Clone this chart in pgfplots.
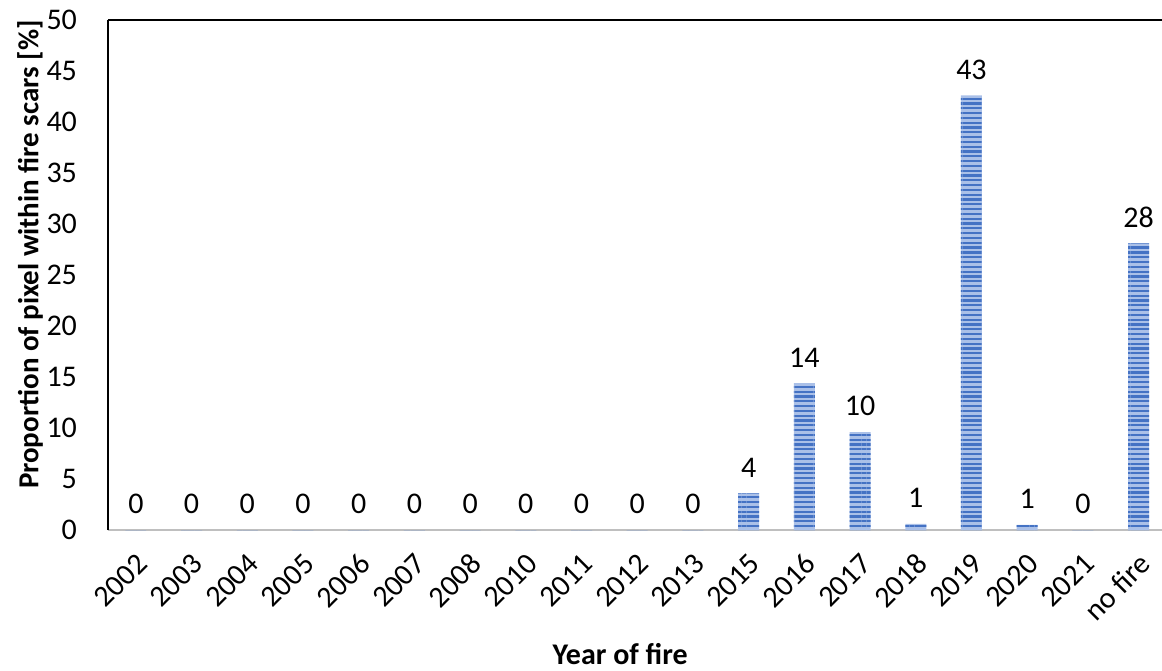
\documentclass[border=0pt]{standalone}
\usepackage{pgfplots}
\pgfplotsset{compat=1.18}
\usepackage{pgfplotstable}
\usepackage{fontspec}
\setmainfont{Carlito}
\usetikzlibrary{patterns.meta,calc}
\definecolor{barblue}{RGB}{68,114,196}
\definecolor{barlight}{RGB}{170,192,232}
\definecolor{axgray}{RGB}{191,191,191}
\pgfplotstableread{
idx val lab
0 0 0
1 0 0
2 0 0
3 0 0
4 0 0
5 0 0
6 0 0
7 0 0
8 0 0
9 0 0
10 0 0
11 3.6 4
12 14.4 14
13 9.6 10
14 0.6 1
15 42.6 43
16 0.5 1
17 0 0
18 28.1 28
}\datatable
\begin{document}
\begin{tikzpicture}
\begin{axis}[
  name=ax,
  scale only axis,
  width=527pt, height=255pt,
  ymin=0, ymax=50, ytick={0,5,...,50},
  xmin=-0.5, xmax=18.42,
  xtick={0,...,18},
  xticklabels={2002,2003,2004,2005,2006,2007,2008,2010,2011,2012,2013,2015,2016,2017,2018,2019,2020,2021,no fire},
  axis x line*=bottom, axis y line*=left,
  x axis line style={-, draw=axgray, line width=1.2pt},
  y axis line style={-, draw=black, line width=1.2pt},
  major tick length=0pt,
  tick style={draw=none},
  font=\fontsize{15}{17}\selectfont,
  ticklabel style={font=\fontsize{15}{17}\selectfont},
  /pgf/number format/assume math mode=true,
  yticklabel style={xshift=-12pt},
  xticklabel style={xshift=5.6pt, yshift=-12pt, rotate=45, anchor=east},
  ylabel={\bfseries Proportion of pixel within fire scars [\%]},
  ylabel style={font=\fontsize{14.5}{17}\selectfont, at={(rel axis cs:-0.074,0.54)}, anchor=center},
  xlabel={\bfseries Year of fire},
  xlabel style={font=\fontsize{15}{17}\selectfont, at={(rel axis cs:0.486,0)}, anchor=center, yshift=-62pt},
  ybar, bar width=10.5pt,
  nodes near coords,
  point meta=explicit symbolic,
  every node near coord/.append style={font=\fontsize{15}{17}\selectfont, yshift=4.5pt},
  clip=false,
  after end axis/.code={\draw[black, line width=1.2pt] (rel axis cs:0,1) -- (rel axis cs:1,1);},
]
\addplot[draw=none, fill=barlight,
  postaction={pattern={Lines[angle=0, distance=2.4pt, line width=1.1pt]}, pattern color=barblue}]
  table[x=idx, y=val, meta=lab] {\datatable};
\end{axis}
\pgfresetboundingbox
\path[use as bounding box] ($(ax.south west)+(-54pt,-70pt)$) rectangle ($(ax.north east)+(0pt,10pt)$);
\end{tikzpicture}
\end{document}
